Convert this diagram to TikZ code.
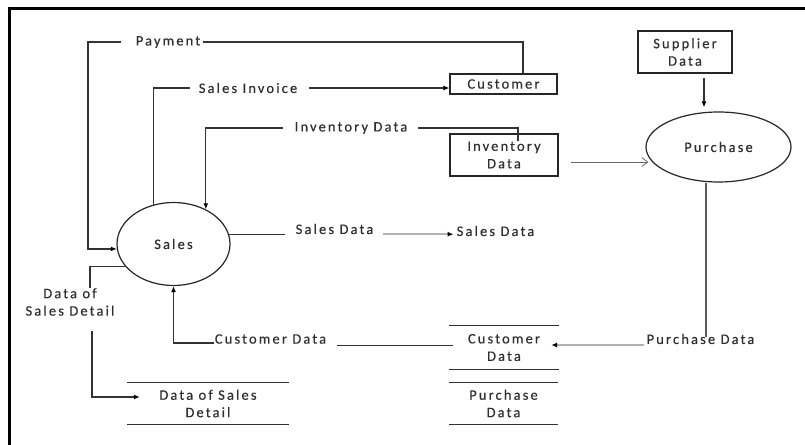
\documentclass[tikz,border=0pt]{standalone}
\usepackage{fontspec}
\setmainfont{Carlito}[LetterSpace=15, FakeBold=0.3]
\usetikzlibrary{shapes.geometric,arrows.meta,calc}

\begin{document}
\begin{tikzpicture}[x=1bp,y=-1bp,
  txt/.style={font=\fontsize{14.5}{17.5}\selectfont, text=black!82, inner sep=3bp, align=center},
  ln/.style={draw=black!80, line width=1.2bp},
  gln/.style={draw=black!30, line width=1.8bp},
  tip/.style={-{Latex[length=6bp,width=5bp,color=black]}},
  opentip/.style={-{Straight Barb[length=6bp,width=9bp]}},
  box/.style={txt, draw=black!85, line width=1.2bp, inner sep=0pt},
  store/.style={txt, inner sep=0pt},
  proc/.style={txt, ellipse, draw=black!85, line width=1.2bp, inner sep=0pt}
]
\useasboundingbox (0,0) rectangle (805,445);

% page frame
\draw[line width=3bp] (9,446) -- (9,9) -- (806,9);

% processes
\node[proc, minimum width=113bp, minimum height=83bp] (sales) at (173.5,244) {Sales};
\node[proc, minimum width=145bp, minimum height=70bp] (purchase) at (718.5,147) {Purchase};

% external entities
\node[box, minimum width=107bp, minimum height=20bp] (customer) at (503.5,84) {Customer};
\node[box, minimum width=108bp, minimum height=42bp] (invbox) at (504,155) {Inventory\\Data};
\node[box, minimum width=94bp, minimum height=42bp] (supplier) at (685,52) {Supplier\\Data};

% data stores
\node[store, minimum width=110bp, minimum height=43bp] (cs) at (504,347.5) {Customer\\Data};
\node[store, minimum width=109bp, minimum height=41bp] (ps) at (503.5,403.5) {Purchase\\Data};
\node[store, minimum width=162bp, minimum height=41bp] (ds) at (208,403.5) {Data of Sales\\Detail};
\foreach \s in {cs,ps,ds}
  \draw[ln] (\s.north west) -- (\s.north east) (\s.south west) -- (\s.south east);

% flow labels
\node[txt] (pay) at (168,42) {Payment};
\node[txt] (si) at (248,88) {Sales Invoice};
\node[txt] (il) at (351,128) {Inventory Data};
\node[txt] (sd1) at (334.5,229) {Sales Data};
\node[txt] (sd2) at (495.5,231) {Sales Data};
\node[txt] (cd) at (270.5,339) {Customer Data};
\node[txt] (pd) at (700.5,339) {Purchase Data};
\node[txt] (dsd) at (70,302) {Data of\\Sales Detail};

% payment: customer -> sales
\coordinate (payturn) at (88,42);
\draw[ln] (pay.east) -| ([xshift=19.5bp]customer.north);
\draw[ln,tip] ([xshift=-12bp]pay.west) -- (payturn) |- (sales.185);

% sales invoice: sales -> customer
\draw[ln] (sales.117) |- ([xshift=-6bp]si.west);
\draw[ln,tip] ([xshift=9bp]si.east) -- (si.east -| customer.west);

% inventory data -> sales
\draw[ln,tip] ([xshift=-9bp]il.west) -| (sales.47);
\draw[ln] ([xshift=8bp]il.east) -| ($(invbox.north)+(14,8)$);

% inventory data -> purchase
\coordinate (ia) at ($(invbox.east)+(12,7)$);
\draw[draw=black!60, line width=0.8bp, opentip, shorten >=-3bp] (ia) -- (ia -| purchase.west);

% supplier data -> purchase
\coordinate (sa) at ($(supplier.south)+(19,4)$);
\draw[ln,tip,shorten >=4bp] (sa) -- (sa |- purchase.north);

% purchase data -> customer data
\coordinate (pdown) at ($(purchase.south)+(-12.5,0)$);
\draw[ln,draw=black!65,shorten >=2bp] (pdown) -- (pdown |- pd.center);
\coordinate (pa) at ($(pd.west)+(1,6)$);
\draw[gln,tip,shorten >=-8bp] (pa) -- (pa -| cs.east);

% customer data -> sales
\coordinate (ca) at ($(cs.west)+(4,-2)$);
\draw[ln,shorten >=8bp] (ca) -- (ca -| cd.east);
\coordinate (cb) at ($(cd.west)+(2,4)$);
\draw[ln,tip] (cb) -| (sales.south);

% sales data
\coordinate (sda) at (sales.10);
\draw[ln,shorten >=8bp] (sda) -- (sda -| sd1.west);
\coordinate (sdb) at ($(sda -| sd1.east)+(7,0)$);
\draw[gln,tip] (sdb) -- (sda -| sd2.west);

% data of sales detail
\coordinate (dd) at ($(dsd.north)+(20,3)$);
\draw[ln] (sales.205) -| (dd);
\coordinate (de) at ($(dsd.south)+(22,12)$);
\coordinate (df) at ($(ds.west)+(13,-6.5)$);
\draw[ln,tip] (de) |- (df);
\end{tikzpicture}
\end{document}
